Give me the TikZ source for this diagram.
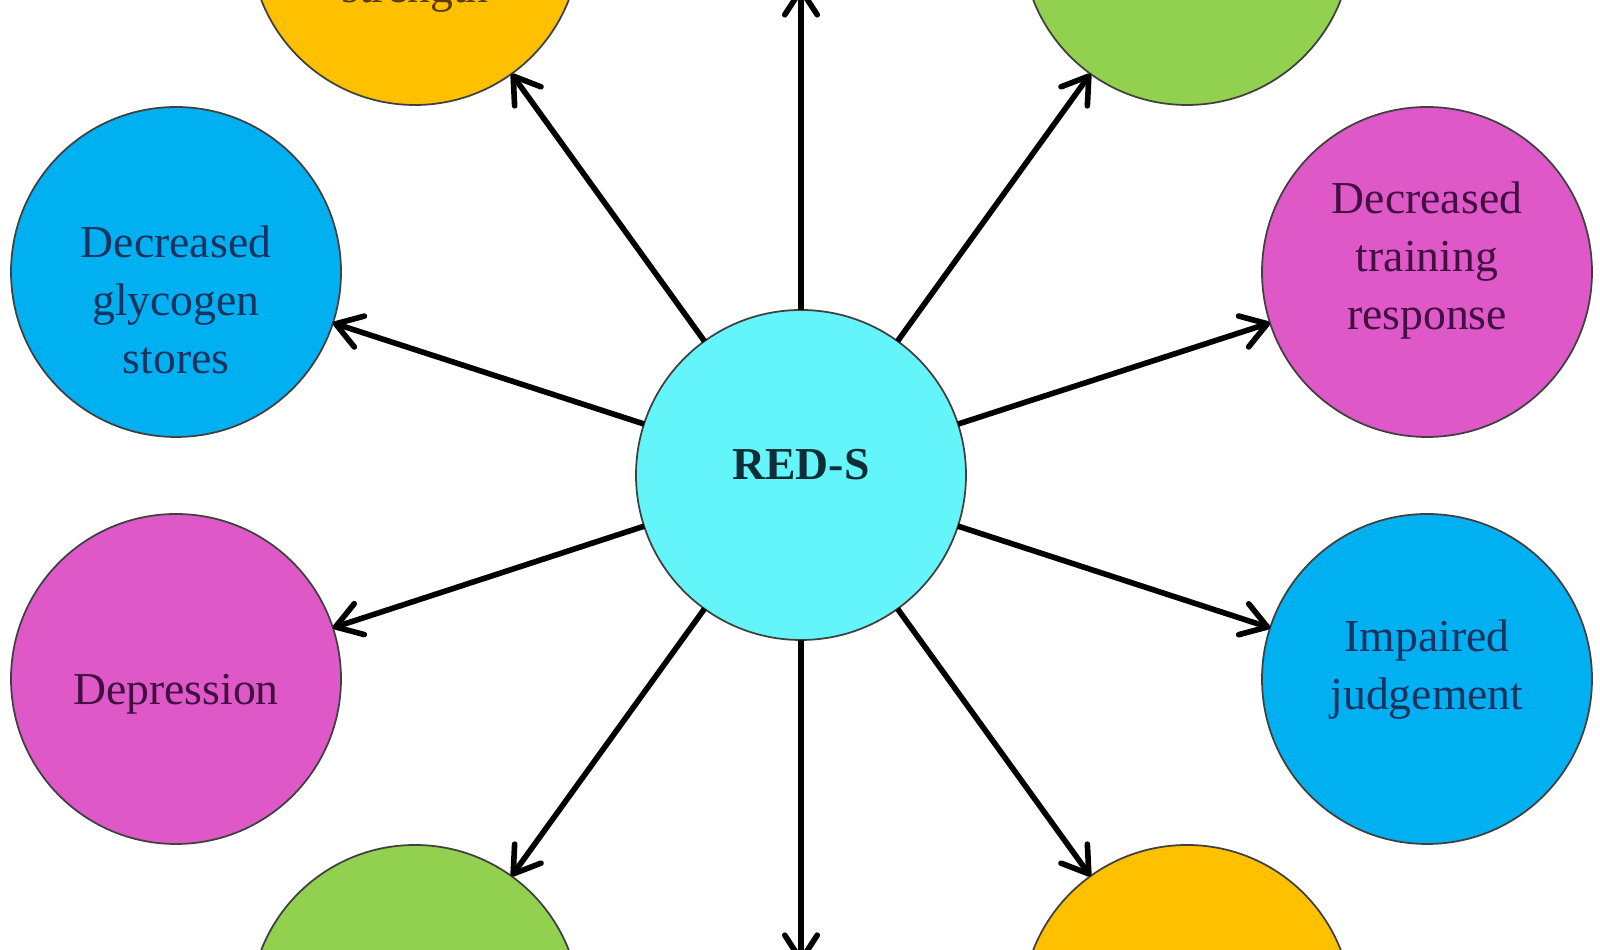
\documentclass[tikz,border=0pt]{standalone}
\usepackage{fontspec}
\setmainfont{Liberation Serif}
\usetikzlibrary{arrows.meta}

\definecolor{redsfill}{RGB}{100,245,250}
\definecolor{bluefill}{RGB}{0,176,240}
\definecolor{pinkfill}{RGB}{222,88,200}
\definecolor{greenfill}{RGB}{146,208,80}
\definecolor{yellowfill}{RGB}{255,192,0}
\definecolor{redstext}{RGB}{15,45,55}
\definecolor{bluetext}{RGB}{25,50,95}
\definecolor{pinktext}{RGB}{65,15,65}
\definecolor{yellowtext}{RGB}{90,60,0}

\tikzset{
	bubble/.style={draw=black!75, line width=1pt, circle, minimum size=6.6cm, inner sep=0pt, outer sep=0pt},
	bubbletext/.style={align=center, font=\fontsize{26}{33}\selectfont},
	link/.style={-{Straight Barb[round, length=5mm, width=6.5mm]}, line width=3.2pt, black},
}

\begin{document}
\begin{tikzpicture}
				\useasboundingbox (0,0) rectangle (32,19);
				\clip (0,0) rectangle (32,19);
				\node[bubble, fill=redsfill, label={[bubbletext, font=\fontsize{26}{33}\selectfont\bfseries, text=redstext, yshift=0.20cm]center:RED-S}] (reds)at(16.02, 9.5) {};
				\node[bubble, fill=bluefill, label={[bubbletext, text=bluetext, yshift=-0.56cm]center:{Decreased\\glycogen\\stores}}] (glycogen)at(3.52, 13.56) {};
				\node[bubble, fill=pinkfill, label={[bubbletext, text=pinktext, yshift=0.22cm]center:{Decreased\\training\\response}}] (training)at(28.54, 13.56) {};
				\node[bubble, fill=pinkfill, label={[bubbletext, text=pinktext, yshift=-0.30cm]center:{Depression}}] (depression)at(3.52, 5.42) {};
				\node[bubble, fill=bluefill, label={[bubbletext, text=bluetext, yshift=0.18cm]center:{Impaired\\judgement}}] (judgement)at(28.54, 5.42) {};
				\node[bubble, fill=yellowfill] (strength)at(8.30, 20.20) {};
				\node[bubbletext, text=yellowtext, anchor=base] (strengthtext)at(8.30, 18.94) {strength};
				\node[bubble, fill=greenfill] (topright)at(23.74, 20.20) {};
				\node[bubble, fill=greenfill] (bottomleft)at(8.30, -1.20) {};
				\node[bubble, fill=yellowfill] (bottomright)at(23.74, -1.20) {};
				\coordinate (topend)at(16.02, 19.26);
				\coordinate (bottomend)at(16.02, -0.26);
				\draw[link] (reds) -- (topend);
				\draw[link] (reds) -- (bottomend);
				\draw[link] (reds) -- (strength);
				\draw[link] (reds) -- (topright);
				\draw[link] (reds) -- (bottomleft);
				\draw[link] (reds) -- (bottomright);
				\draw[link] (reds) -- (glycogen);
				\draw[link] (reds) -- (training);
				\draw[link] (reds) -- (depression);
				\draw[link] (reds) -- (judgement);
			\end{tikzpicture}
\end{document}
